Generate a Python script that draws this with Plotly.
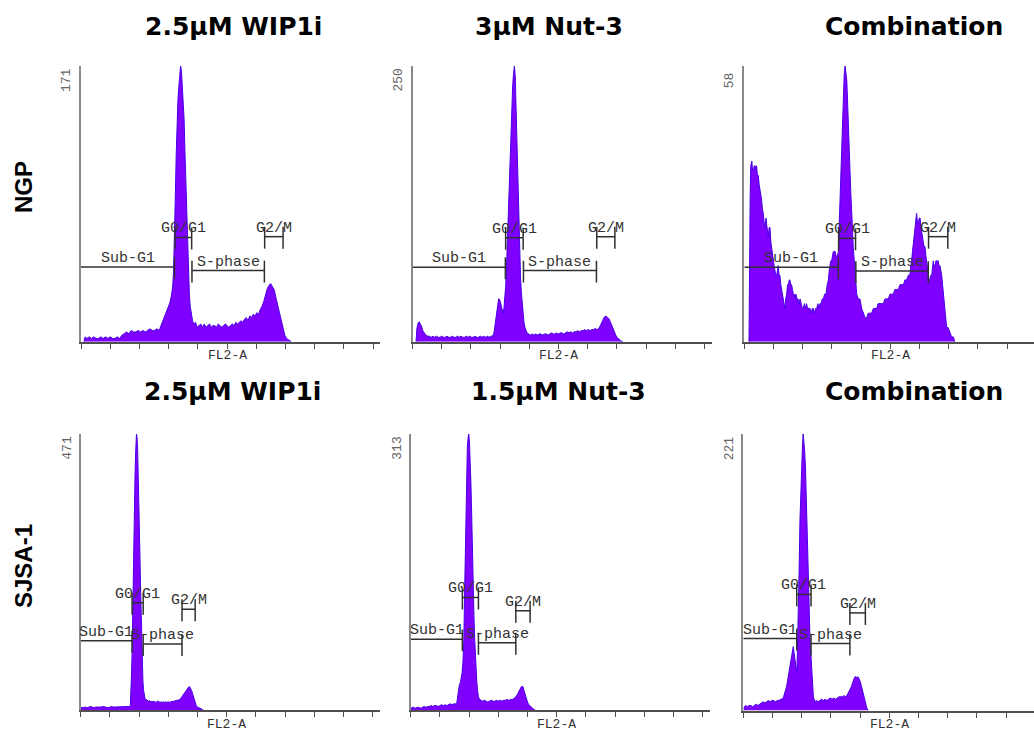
import plotly.graph_objects as go

# ---------------- data (channel, count) ----------------
ngp_wip1i = [(10,0),(14,3),(20,2),(28,3),(36,2),(44,3),(52,2),(60,2),(68,3),(76,2),(84,3),(92,2),(100,3),(108,2),(116,2),(124,3),(132,2),(140,4),(148,5),(156,6),(164,5),(172,7),(180,6),(188,6),(196,7),(204,6),(212,7),(220,6),(228,7),(236,8),(244,7),(252,7),(260,8),(268,7),(274,10),(280,13),(286,16),(292,19),(298,22),(304,24),(309,28),(314,34),(317,44),(320,62),(323,90),(326,116),(329,136),(332,150),(335,158),(338,165),(341,171),(344,168),(347,160),(350,150),(353,138),(356,118),(359,98),(362,80),(365,60),(368,42),(371,30),(374,22),(378,16),(382,13),(386,11),(392,12),(398,9),(404,10),(410,11),(416,9),(422,11),(428,9),(434,10),(440,11),(446,9),(452,10),(458,10),(464,9),(470,11),(476,10),(482,9),(488,10),(494,11),(500,10),(506,9),(512,10),(518,11),(524,10),(530,12),(536,11),(542,12),(548,13),(554,12),(560,14),(566,15),(572,13),(578,16),(584,15),(590,17),(596,16),(602,18),(608,17),(614,20),(620,22),(626,25),(632,29),(638,33),(644,35),(650,36),(656,34),(662,32),(668,27),(674,22),(680,17),(686,12),(692,7),(698,4),(704,2),(712,1),(720,0)]
ngp_nut3 = [(12,0),(15,12),(19,17),(23,18),(27,16),(31,14),(35,10),(40,8),(46,6),(52,5),(58,5),(64,4),(70,5),(76,4),(82,5),(88,4),(94,4),(100,5),(106,4),(112,4),(118,5),(124,4),(130,4),(136,5),(142,4),(148,4),(154,5),(160,4),(166,5),(172,4),(178,4),(184,5),(190,4),(196,5),(202,4),(208,4),(214,5),(220,4),(226,4),(232,5),(238,4),(244,5),(250,4),(256,5),(262,4),(268,5),(274,5),(279,8),(283,16),(287,26),(291,35),(295,39),(299,38),(303,33),(307,28),(310,26),(313,30),(316,38),(319,50),(322,68),(325,92),(328,119),(331,145),(334,170),(337,195),(340,215),(343,232),(346,243),(349,250),(352,240),(355,210),(358,170),(361,135),(364,105),(367,78),(370,58),(373,44),(376,32),(379,23),(382,17),(385,13),(388,10),(392,8),(398,7),(404,6),(410,7),(416,6),(422,7),(428,6),(434,7),(440,7),(446,6),(452,7),(458,7),(464,6),(470,7),(476,8),(482,7),(488,7),(494,8),(500,7),(506,8),(512,8),(518,7),(524,8),(530,9),(536,8),(542,9),(548,8),(554,9),(560,9),(566,10),(572,9),(578,10),(584,10),(590,11),(596,10),(602,11),(608,10),(614,11),(620,11),(626,12),(632,11),(638,12),(644,15),(648,18),(652,21),(656,22),(660,23),(664,23),(668,22),(672,21),(676,19),(680,16),(684,13),(688,10),(692,8),(696,6),(700,4),(706,2),(712,1),(720,0)]
ngp_combo = [(16,0),(17,18),(20,30),(22,37),(24,38),(26,38),(28,36),(31,36),(34,37),(37,37),(40,36),(42,37),(45,35),(48,35),(51,33),(54,32),(57,31),(59,30),(62,28),(65,27),(68,25),(71,24),(74,26),(76,25),(79,23),(82,22),(85,24),(88,24),(91,21),(93,20),(96,18),(99,17),(102,16),(105,15),(108,14),(111,14),(114,16),(116,16),(119,14),(122,14),(125,12),(128,11),(131,10),(134,9),(137,8),(139,7),(142,9),(145,10),(148,12),(151,12),(154,13),(156,13),(159,12),(162,12),(165,11),(168,10),(171,10),(174,9),(177,10),(180,9),(184,9),(188,8),(191,9),(195,8),(199,7),(202,7),(206,8),(210,7),(213,8),(217,7),(221,7),(225,7),(229,6),(233,7),(236,7),(240,6),(244,7),(248,7),(252,8),(256,7),(259,8),(263,8),(267,9),(271,9),(275,10),(280,10),(284,12),(288,13),(291,15),(293,16),(296,17),(299,17),(302,18),(305,19),(308,19),(311,19),(314,18),(316,18),(319,18),(322,19),(325,25),(328,31),(331,37),(333,42),(336,48),(339,53),(342,56),(345,58),(348,56),(351,55),(354,50),(356,45),(359,40),(362,36),(365,31),(368,28),(371,23),(373,20),(376,17),(379,14),(382,12),(385,10),(390,9),(396,9),(402,7),(408,6),(414,5),(419,5),(424,6),(430,6),(436,6),(442,7),(448,7),(453,7),(458,8),(464,8),(470,8),(476,8),(482,9),(487,9),(493,9),(499,10),(505,10),(510,10),(516,11),(522,11),(528,11),(533,12),(539,12),(545,12),(550,13),(556,13),(562,14),(567,14),(570,16),(573,17),(576,19),(579,21),(582,23),(585,25),(588,26),(590,27),(593,25),(596,25),(599,26),(602,26),(605,24),(607,23),(610,22),(613,21),(616,20),(619,20),(622,18),(624,17),(627,15),(630,14),(633,13),(636,13),(639,14),(642,14),(645,16),(647,17),(650,16),(653,16),(656,17),(659,17),(662,17),(664,17),(667,16),(670,16),(673,15),(676,14),(679,12),(682,10),(685,8),(687,6),(690,4),(693,3),(698,3),(704,2),(710,1),(716,1),(721,0)]
sjsa_wip1i = [(2,0),(4,5),(10,4),(16,5),(22,4),(28,5),(34,6),(40,5),(46,4),(52,5),(58,5),(64,4),(70,5),(76,6),(82,5),(88,5),(94,4),(100,5),(106,6),(112,5),(118,5),(124,6),(130,5),(136,5),(142,6),(148,5),(154,6),(160,5),(166,6),(170,8),(172,28),(174,60),(176,97),(178,170),(180,239),(182,300),(184,353),(186,400),(188,438),(190,460),(191,471),(193,465),(195,445),(197,410),(199,365),(201,324),(203,260),(205,210),(207,160),(209,125),(211,85),(213,51),(215,35),(217,23),(220,20),(224,18),(228,16),(232,15),(236,16),(240,14),(244,15),(248,14),(252,15),(256,13),(260,14),(264,15),(268,14),(272,13),(276,14),(280,13),(284,14),(288,13),(292,14),(296,13),(300,14),(304,13),(308,14),(312,14),(316,15),(320,15),(324,16),(328,16),(332,17),(336,17),(340,18),(344,21),(348,24),(352,27),(356,30),(360,33),(364,36),(368,39),(371,40),(374,39),(377,37),(380,33),(383,28),(386,22),(389,16),(392,11),(396,7),(400,5),(405,4),(410,3),(415,2),(420,0)]
sjsa_nut3 = [(2,0),(4,3),(10,3),(16,2),(22,3),(28,3),(34,2),(40,3),(46,4),(52,3),(58,4),(64,4),(70,5),(76,4),(82,5),(88,5),(94,4),(100,5),(106,6),(112,5),(118,6),(124,5),(130,6),(136,7),(142,6),(148,7),(154,7),(158,8),(161,16),(164,26),(167,29),(170,31),(173,36),(176,42),(179,55),(182,80),(185,140),(188,210),(191,262),(194,299),(197,310),(199,313),(201,305),(203,291),(206,260),(208,234),(210,195),(212,159),(215,125),(217,102),(219,82),(221,64),(224,45),(226,34),(229,22),(232,15),(236,12),(240,11),(246,10),(252,11),(258,10),(264,9),(270,10),(276,11),(282,10),(288,10),(294,11),(300,10),(306,11),(312,10),(318,11),(324,11),(330,12),(336,11),(342,12),(348,12),(354,13),(358,14),(362,16),(366,18),(370,21),(374,24),(378,26),(382,27),(385,26),(388,22),(391,19),(394,15),(397,11),(401,8),(405,6),(409,5),(414,3),(420,1),(426,0)]
sjsa_combo = [(2,0),(3,3),(8,4),(14,3),(20,4),(26,4),(32,3),(38,4),(44,5),(50,4),(56,5),(62,6),(68,7),(74,6),(80,7),(86,8),(92,7),(98,8),(104,8),(110,7),(116,8),(122,8),(128,9),(134,9),(138,11),(141,13),(144,15),(148,19),(151,23),(154,27),(157,31),(160,35),(163,40),(166,46),(169,50),(171,51),(174,46),(177,40),(180,34),(183,30),(185,45),(188,72),(191,110),(194,152),(197,180),(200,200),(203,214),(205,221),(208,215),(210,208),(213,194),(215,179),(217,160),(219,139),(222,118),(224,99),(226,80),(228,59),(231,44),(234,30),(237,20),(240,11),(245,7),(250,8),(256,7),(262,8),(268,9),(274,8),(280,9),(286,8),(292,9),(298,10),(304,9),(310,10),(316,9),(322,10),(328,11),(334,11),(340,11),(346,12),(350,11),(355,12),(360,14),(365,16),(370,19),(374,22),(377,25),(380,26),(383,27),(386,27),(389,26),(392,27),(395,26),(398,25),(401,23),(404,20),(407,17),(410,13),(413,10),(416,7),(419,4),(423,2),(428,0)]

# y-axis maxima shown on each histogram
y_max = [171, 250, 58, 471, 313, 221]

panel_titles = ["2.5\u00b5M WIP1i", "3\u00b5M Nut-3", "Combination",
                "2.5\u00b5M WIP1i", "1.5\u00b5M Nut-3", "Combination"]
row_labels = ["NGP", "SJSA-1"]

gate_names = ["Sub-G1", "G0/G1", "S-phase", "G2/M"]
gates = [
    [(0, 320), (322, 379), (380, 628), (629, 692)],
    [(0, 318), (319, 379), (380, 630), (631, 693)],
    [(0, 322), (323, 381), (382, 630), (631, 697)],
    [(0, 176), (176, 214), (214, 347), (347, 392)],
    [(0, 177), (177, 232), (232, 360), (360, 409)],
    [(0, 183), (183, 232), (232, 365), (365, 418)],
]
x_axis_label = "FL2-A"
x_ticks = [0, 100, 200, 300, 400, 500, 600, 700, 800, 900, 1000]
n_channels = 1024

# ---------------- layout / style ----------------
W, H = 1034, 735
PX_PER_CH = 0.292
FILL = "#7F00FF"
EDGE = "#4A00E6"
MONO = "Liberation Mono, Courier New, monospace"

# per panel: y-axis x pixel, bottom pixel, top pixel, gate line levels (domain fraction)
geom = [
    dict(x0=81.0,  yb=341.7, yt=66.0,  lv=[0.271, 0.378, 0.258, 0.381]),
    dict(x0=412.5, yb=341.7, yt=66.0,  lv=[0.270, 0.377, 0.258, 0.381]),
    dict(x0=744.3, yb=341.7, yt=66.0,  lv=[0.270, 0.375, 0.256, 0.381]),
    dict(x0=80.7,  yb=710.0, yt=434.0, lv=[0.251, 0.389, 0.239, 0.365]),
    dict(x0=410.7, yb=710.0, yt=434.0, lv=[0.256, 0.408, 0.244, 0.360]),
    dict(x0=743.3, yb=710.5, yt=434.0, lv=[0.260, 0.420, 0.242, 0.353]),
]
title_pos = [(233, 26), (549, 26), (914, 26), (232, 391), (558, 391), (914, 391)]
row_pos = [(23, 187), (23, 566)]

datasets = [ngp_wip1i, ngp_nut3, ngp_combo, sjsa_wip1i, sjsa_nut3, sjsa_combo]

fig = go.Figure()
layout = {}
shapes = []
annos = []

for i, (data, g, ymax, gt) in enumerate(zip(datasets, geom, y_max, gates), start=1):
    sfx = "" if i == 1 else str(i)
    xa, ya = "x" + sfx, "y" + sfx
    xs = [c for c, _ in data]
    ys = [v for _, v in data]
    fig.add_trace(go.Scatter(x=xs, y=ys, xaxis=xa, yaxis=ya, mode="lines",
                             fill="tozeroy", fillcolor=FILL,
                             line=dict(color=EDGE, width=1),
                             hoverinfo="skip", showlegend=False))
    x_end = min(g["x0"] + n_channels * PX_PER_CH, W)
    xmax = (x_end - g["x0"]) / PX_PER_CH
    layout["xaxis" + sfx] = dict(
        domain=[g["x0"] / W, x_end / W], range=[0, xmax], anchor=ya,
        showgrid=False, zeroline=False, showline=True, linecolor="#505050",
        linewidth=2, ticks="outside", tickvals=x_ticks, ticklen=5,
        tickcolor="#505050", tickwidth=1, showticklabels=False, fixedrange=True)
    layout["yaxis" + sfx] = dict(
        domain=[1 - g["yb"] / H, 1 - g["yt"] / H], range=[0, ymax], anchor=xa,
        showgrid=False, zeroline=False, showline=True, linecolor="#8a8a8a",
        linewidth=2, showticklabels=False, ticks="", fixedrange=True)

    ydom = ya + " domain"
    for (lo, hi), lvl, name in zip(gt, g["lv"], gate_names):
        shapes.append(dict(type="line", xref=xa, yref=ydom, x0=lo, x1=hi,
                           y0=lvl, y1=lvl, line=dict(color="#303030", width=1.5)))
        for xe in (lo, hi):
            if xe == 0:
                continue
            shapes.append(dict(type="line", xref=xa, yref=ydom, x0=xe, x1=xe,
                               y0=lvl - 0.0435, y1=lvl + 0.036,
                               line=dict(color="#303030", width=1.5)))
        annos.append(dict(text=name, xref=xa, yref=ydom, x=(lo + hi) / 2, y=lvl,
                          xanchor="center", yanchor="bottom", yshift=-2,
                          showarrow=False, font=dict(family=MONO, size=15, color="#333333")))
    # max count label
    annos.append(dict(text=str(ymax), xref=xa + " domain", yref=ydom, x=0, y=1,
                      xshift=-14, yshift=-14, xanchor="center", yanchor="middle",
                      textangle=-90, showarrow=False,
                      font=dict(family=MONO, size=13, color="#666666")))
    # x-axis label
    annos.append(dict(text=x_axis_label, xref=xa, yref=ydom, x=500, y=0, yshift=-14,
                      xanchor="center", yanchor="middle", showarrow=False,
                      font=dict(family=MONO, size=13, color="#333333")))

for t, (px, py) in zip(panel_titles, title_pos):
    annos.append(dict(text="<b>" + t + "</b>", xref="paper", yref="paper",
                      x=px / W, y=1 - py / H, xanchor="center", yanchor="middle",
                      showarrow=False,
                      font=dict(family="DejaVu Sans", size=25, color="#000000")))
for t, (px, py) in zip(row_labels, row_pos):
    annos.append(dict(text="<b>" + t + "</b>", xref="paper", yref="paper",
                      x=px / W, y=1 - py / H, xanchor="center", yanchor="middle",
                      textangle=-90, showarrow=False,
                      font=dict(family="Liberation Sans", size=24, color="#000000")))

fig.update_layout(**layout)
fig.update_layout(width=W, height=H, autosize=False,
                  margin=dict(l=0, r=0, t=0, b=0, pad=0),
                  plot_bgcolor="white", paper_bgcolor="white",
                  shapes=shapes, annotations=annos, showlegend=False)

fig.write_html("out.html", config={"displayModeBar": False},
               post_script="document.body.style.margin='0';document.body.style.overflow='hidden';")
